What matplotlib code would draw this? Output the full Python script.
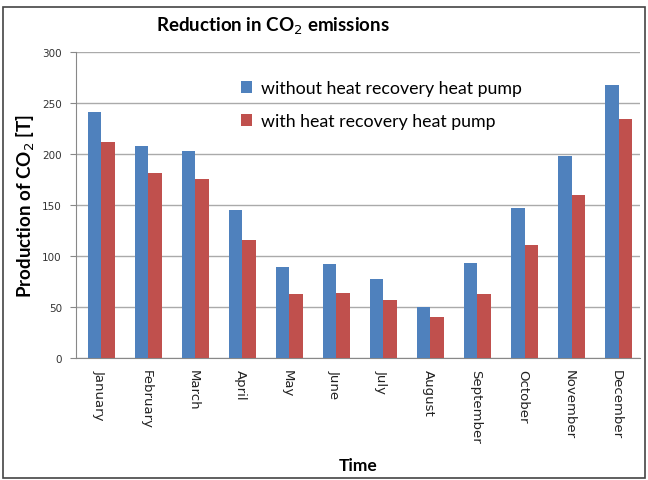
import matplotlib

matplotlib.use("Agg")
import matplotlib.pyplot as plt
import numpy as np
from matplotlib.patches import Rectangle

months = [
    "January", "February", "March", "April", "May", "June",
    "July", "August", "September", "October", "November", "December",
]
without_hr = [241, 208, 203, 145, 89, 92, 77, 50, 93, 147, 198, 268]
with_hr = [212, 181, 176, 116, 63, 64, 57, 40, 63, 111, 160, 234]
y_ticks = [0, 50, 100, 150, 200, 250, 300]

blue = "#4F81BD"
red = "#C0504D"

fig = plt.figure(figsize=(6.48, 4.81), dpi=100)
ax = fig.add_axes([0.117, 0.2536, 0.871, 0.636])

x = np.arange(len(months))
width = 0.29
ax.bar(x - width / 2 + 0.04, without_hr, width, color=blue,
       label="without heat recovery heat pump", zorder=3)
ax.bar(x + width / 2 + 0.04, with_hr, width, color=red,
       label="with heat recovery heat pump", zorder=3)

ax.set_xlim(-0.5, len(months) - 0.5)
ax.set_ylim(0, 300)
ax.set_yticks(y_ticks)
ax.set_yticklabels([str(v) for v in y_ticks], fontsize=7.5, color="#333333")
ax.set_xticks(x)
ax.set_xticklabels(months, rotation=-90, fontsize=9.5, color="#222222",
                   va="top", ha="center")
ax.tick_params(axis="x", length=0, pad=8)
ax.tick_params(axis="y", length=4, color="#888888", pad=6)

ax.yaxis.grid(True, color="#AAAAAA", linewidth=1.0, zorder=0)
for side in ["top", "right"]:
    ax.spines[side].set_visible(False)
ax.spines["left"].set_color("#888888")
ax.spines["bottom"].set_color("#888888")

# title sits left of the plot centre, as in the source chart
fig.text(0.421, 0.946, "Reduction in CO$_2$ emissions", fontsize=13.5,
         fontweight="bold", family="Lato", ha="center", va="center")
ax.set_ylabel("Production of CO$_2$ [T]", fontsize=13.5, fontweight="bold",
              family="Lato", labelpad=4)
ax.set_xlabel("Time", fontsize=12.5, fontweight="bold", family="Lato",
              labelpad=10)

legend = ax.legend(loc="upper left", bbox_to_anchor=(0.265, 0.96), frameon=False,
                   prop={"family": "Lato", "size": 12.8}, handlelength=0.6,
                   handleheight=0.6, handletextpad=0.5, labelspacing=0.95)

fig.patches.append(Rectangle((0.004, 0.004), 0.992, 0.98, transform=fig.transFigure,
                             fill=False, edgecolor="#444444", linewidth=1.2))

fig.savefig("out.png", dpi=100)
